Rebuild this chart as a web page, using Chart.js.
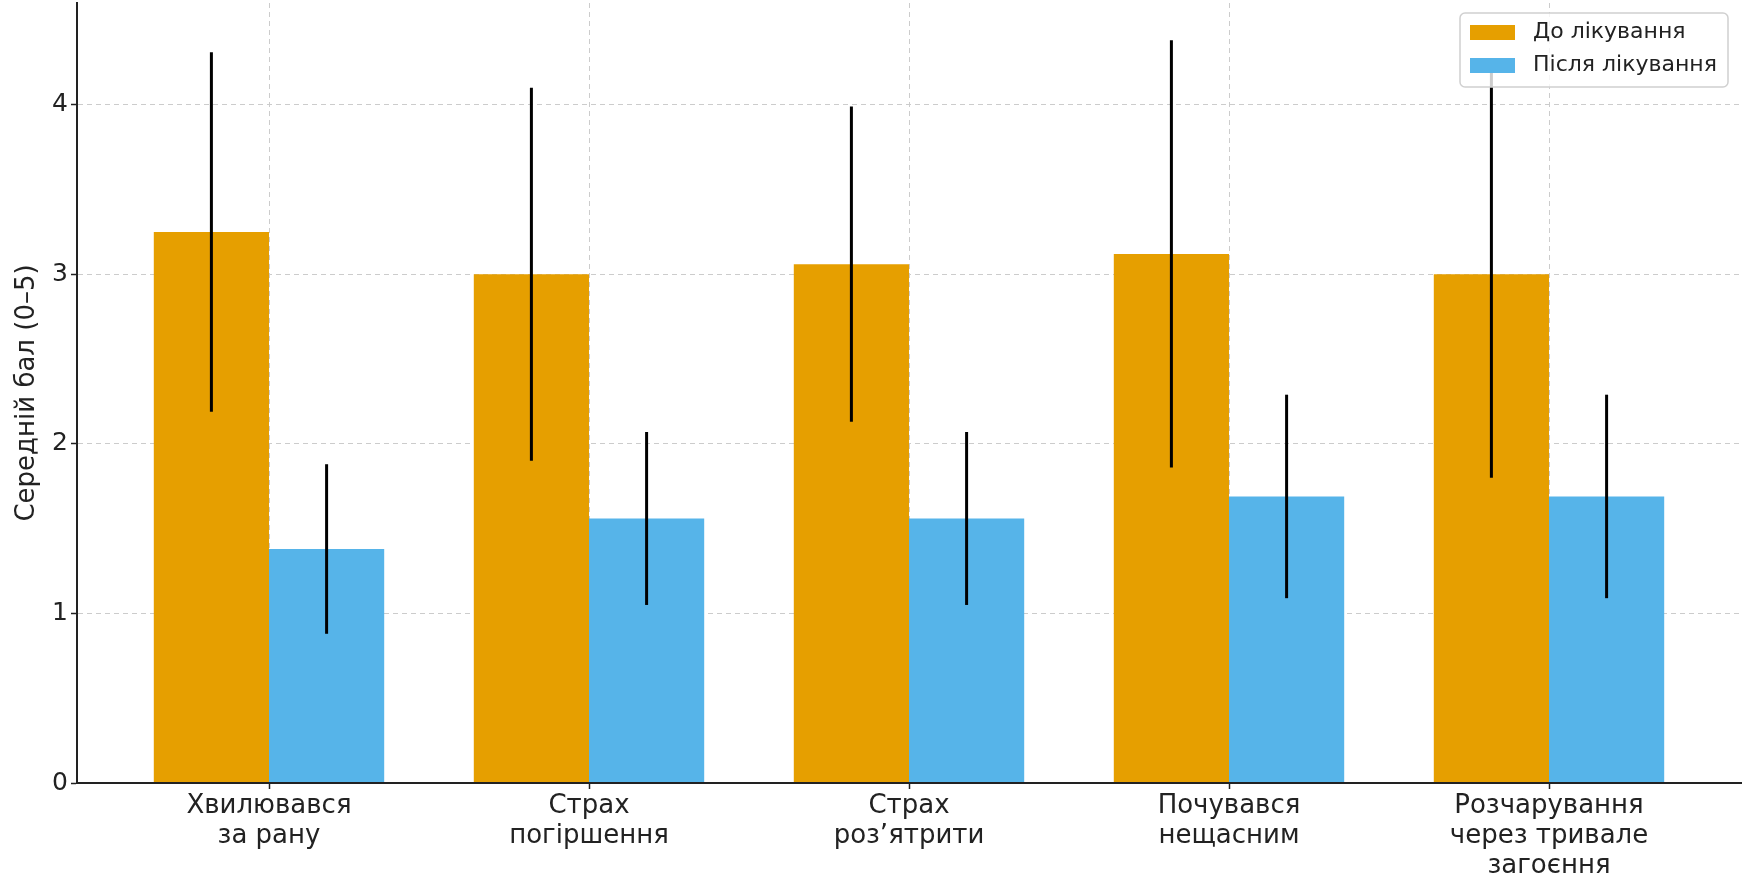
<!DOCTYPE html>
<html>
<head>
<meta charset="utf-8">
<script src="https://cdn.jsdelivr.net/npm/chart.js@4.4.1/dist/chart.umd.min.js"></script>
<style>
  html, body { margin: 0; padding: 0; background: #fff; }
  #wrap { width: 1757px; height: 894px; position: relative; }
</style>
</head>
<body>
<div id="wrap"><canvas id="chart"></canvas></div>
<script>
// Категорії (підписи по осі X, з переносами рядків)
const categories = [
    ['Хвилювався', 'за рану'],
    ['Страх', 'погіршення'],
    ['Страх', 'роз’ятрити'],
    ['Почувався', 'нещасним'],
    ['Розчарування', 'через тривале', 'загоєння']
];

// Середні бали та стандартні відхилення
const beforeMeans = [3.25, 3.00, 3.06, 3.12, 3.00];
const beforeSd = [1.06, 1.10, 0.93, 1.26, 1.20];
const afterMeans = [1.38, 1.56, 1.56, 1.69, 1.69];
const afterSd = [0.50, 0.51, 0.51, 0.60, 0.60];

const yTicks = [0, 1, 2, 3, 4];

const seriesNames = ['До лікування', 'Після лікування'];
const colors = { before: '#E69F00', after: '#56B4E9', text: '#222222', grid: '#cccccc' };
const fontFamily = '"DejaVu Sans", sans-serif';

// Планки похибок (Chart.js не має їх з коробки)
const errorBars = {
    id: 'errorBars',
    afterDatasetsDraw(chart) {
        const { ctx, scales: { y } } = chart;
        chart.data.datasets.forEach((ds, di) => {
            const meta = chart.getDatasetMeta(di);
            meta.data.forEach((bar, i) => {
                const m = ds.data[i].y;
                const sd = ds.errors[i];
                ctx.save();
                ctx.strokeStyle = '#000';
                ctx.lineWidth = 3;
                ctx.beginPath();
                ctx.moveTo(bar.x, y.getPixelForValue(m + sd));
                ctx.lineTo(bar.x, y.getPixelForValue(m - sd));
                ctx.stroke();
                ctx.restore();
            });
        });
        // вісь X поверх стовпців
        const area = chart.chartArea;
        ctx.save();
        ctx.strokeStyle = colors.text;
        ctx.lineWidth = 2;
        ctx.beginPath();
        ctx.moveTo(area.left - 1, y.getPixelForValue(0));
        ctx.lineTo(area.right, y.getPixelForValue(0));
        ctx.stroke();
        ctx.restore();
    }
};

// Легенда в рамці у верхньому правому куті
const boxLegend = {
    id: 'boxLegend',
    afterDraw(chart) {
        const { ctx, chartArea } = chart;
        const w = 268, h = 74;
        const x0 = chartArea.right - 13 - w;
        const y0 = chartArea.top + 10;
        ctx.save();
        ctx.fillStyle = 'rgba(255,255,255,0.8)';
        ctx.strokeStyle = '#d0d0d0';
        ctx.lineWidth = 1.5;
        ctx.beginPath();
        ctx.roundRect(x0, y0, w, h, 5);
        ctx.fill();
        ctx.stroke();
        ctx.font = '22px ' + fontFamily;
        ctx.textBaseline = 'middle';
        chart.data.datasets.forEach((ds, i) => {
            const rowY = y0 + 19 + i * 33;
            ctx.fillStyle = ds.backgroundColor;
            ctx.fillRect(x0 + 10, rowY - 7, 45, 15);
            ctx.fillStyle = colors.text;
            ctx.fillText(ds.label, x0 + 73, rowY);
        });
        ctx.restore();
    }
};

const toPoints = (arr) => arr.map((v, i) => ({ x: i, y: v }));

new Chart(document.getElementById('chart'), {
    type: 'bar',
    data: {
        datasets: [
            {
                label: seriesNames[0],
                data: toPoints(beforeMeans),
                errors: beforeSd,
                backgroundColor: colors.before
            },
            {
                label: seriesNames[1],
                data: toPoints(afterMeans),
                errors: afterSd,
                backgroundColor: colors.after
            }
        ]
    },
    options: {
        responsive: true,
        maintainAspectRatio: false,
        animation: false,
        layout: { padding: { top: 3, right: 16, left: 0, bottom: 0 } },
        datasets: {
            bar: { categoryPercentage: 0.72, barPercentage: 1.0 }
        },
        plugins: {
            legend: { display: false },
            tooltip: { enabled: false }
        },
        scales: {
            x: {
                type: 'linear',
                offset: false,
                min: -0.6,
                max: 4.6,
                afterBuildTicks: (scale) => {
                    scale.ticks = categories.map((_, i) => ({ value: i }));
                },
                afterFit: (scale) => {
                    scale.height = 111;
                    scale.paddingLeft = 0;
                    scale.paddingRight = 0;
                },
                ticks: {
                    color: colors.text,
                    font: { family: fontFamily, size: 26, lineHeight: 1.15 },
                    padding: 2,
                    maxRotation: 0,
                    autoSkip: false,
                    callback: (value) => categories[value]
                },
                grid: {
                    offset: false,
                    color: colors.grid,
                    lineWidth: 1,
                    tickLength: 6,
                    tickColor: colors.text,
                    tickWidth: 1.5
                },
                border: { color: colors.text, width: 2, dash: [5, 4] }
            },
            y: {
                min: 0,
                max: 4.6,
                afterBuildTicks: (scale) => {
                    scale.ticks = yTicks.map(v => ({ value: v }));
                },
                afterFit: (scale) => {
                    scale.width = 77;
                    scale.paddingTop = 0;
                    scale.paddingBottom = 0;
                },
                title: {
                    display: true,
                    text: 'Середній бал (0–5)',
                    color: colors.text,
                    font: { family: fontFamily, size: 26 },
                    padding: { top: 12, bottom: 4 }
                },
                ticks: {
                    color: colors.text,
                    font: { family: fontFamily, size: 25 },
                    padding: 3
                },
                grid: {
                    color: colors.grid,
                    lineWidth: 1,
                    tickLength: 6,
                    tickColor: colors.text,
                    tickWidth: 1.5
                },
                border: { color: colors.text, width: 2, dash: [5, 4] }
            }
        }
    },
    plugins: [errorBars, boxLegend]
});
</script>
</body>
</html>
